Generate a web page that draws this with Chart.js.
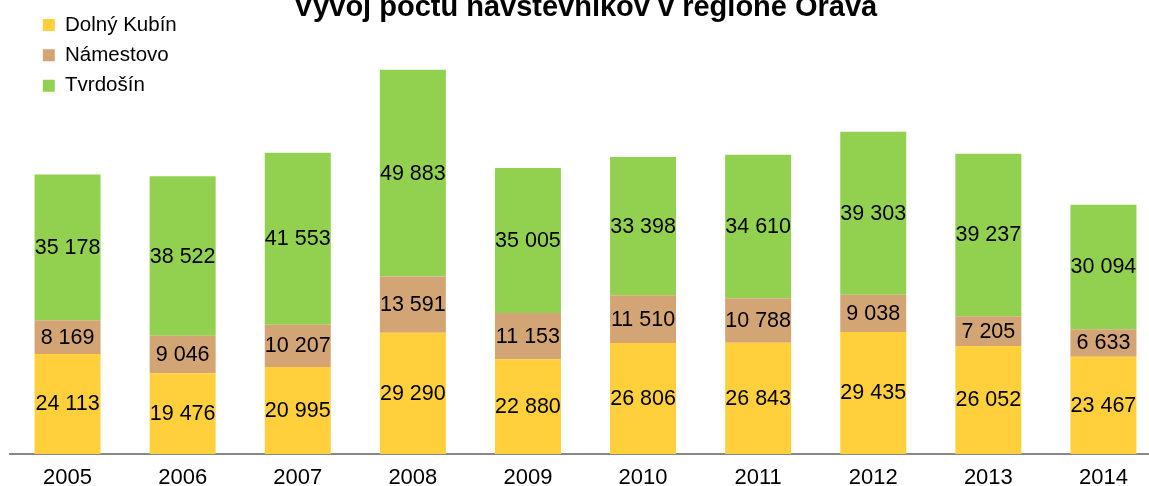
<!DOCTYPE html>
<html>
<head>
<meta charset="utf-8">
<script src="https://cdn.jsdelivr.net/npm/chart.js@4"></script>
<style>
  html, body { margin: 0; padding: 0; background: #fff; overflow: hidden; }
  #wrap { position: absolute; left: 0; top: -12px; width: 1161px; height: 522px; }
</style>
</head>
<body>
<div id="wrap"><canvas id="c"></canvas></div>
<script>
const years = ['2005','2006','2007','2008','2009','2010','2011','2012','2013','2014'];
const dolnyKubin = [24113, 19476, 20995, 29290, 22880, 26806, 26843, 29435, 26052, 23467];
const namestovo  = [8169, 9046, 10207, 13591, 11153, 11510, 10788, 9038, 7205, 6633];
const tvrdosin   = [35178, 38522, 41553, 49883, 35005, 33398, 34610, 39303, 39237, 30094];
const seriesNames = ['Dolný Kubín', 'Námestovo', 'Tvrdošín'];
const titleText = 'Vývoj počtu návštevníkov v regióne Orava';

const FONT = '"Liberation Sans", Arial, sans-serif';
const fmt = v => String(v).replace(/\B(?=(\d{3})+(?!\d))/g, ' ');

const labelPlugin = {
  id: 'segLabels',
  afterLayout(chart) {
    chart.legend.left = 33;
    chart.legend.top = 17;
  },
  afterDatasetsDraw(chart) {
    const ctx = chart.ctx;
    ctx.save();
    ctx.font = '21.5px ' + FONT;
    ctx.fillStyle = '#000';
    ctx.textAlign = 'center';
    ctx.textBaseline = 'middle';
    chart.data.datasets.forEach((ds, i) => {
      const meta = chart.getDatasetMeta(i);
      meta.data.forEach((el, j) => {
        ctx.fillText(fmt(ds.data[j]), el.x, (el.y + el.base) / 2 + 0.5);
      });
    });
    ctx.restore();
  }
};

new Chart(document.getElementById('c'), {
  type: 'bar',
  data: {
    labels: years,
    datasets: [
      { label: seriesNames[0], data: dolnyKubin, backgroundColor: '#FFD03B' },
      { label: seriesNames[1], data: namestovo,  backgroundColor: '#D4A574' },
      { label: seriesNames[2], data: tvrdosin,   backgroundColor: '#92D050' }
    ]
  },
  options: {
    responsive: true,
    maintainAspectRatio: false,
    animation: false,
    events: [],
    layout: { padding: { left: 10, right: 0, top: 0, bottom: 7.6 } },
    datasets: { bar: { categoryPercentage: 1, barPercentage: 0.5734, borderWidth: 0 } },
    scales: {
      x: {
        stacked: true,
        grid: { display: false, drawTicks: false },
        border: { display: true, color: '#888888', width: 2 },
        ticks: { color: '#000', font: { family: FONT, size: 22 }, padding: 11 }
      },
      y: {
        stacked: true,
        display: false,
        min: 0,
        max: 100000
      }
    },
    plugins: {
      title: {
        display: true,
        text: titleText,
        color: '#000',
        font: { family: FONT, size: 29, weight: 'bold' },
        padding: { top: 3, bottom: 14 }
      },
      legend: {
        display: true,
        position: 'chartArea',
        align: 'start',
        labels: {
          color: '#000',
          font: { family: FONT, size: 20.5 },
          boxWidth: 12,
          boxHeight: 12,
          padding: 9.8
        }
      },
      tooltip: { enabled: false }
    }
  },
  plugins: [labelPlugin]
});
</script>
</body>
</html>
